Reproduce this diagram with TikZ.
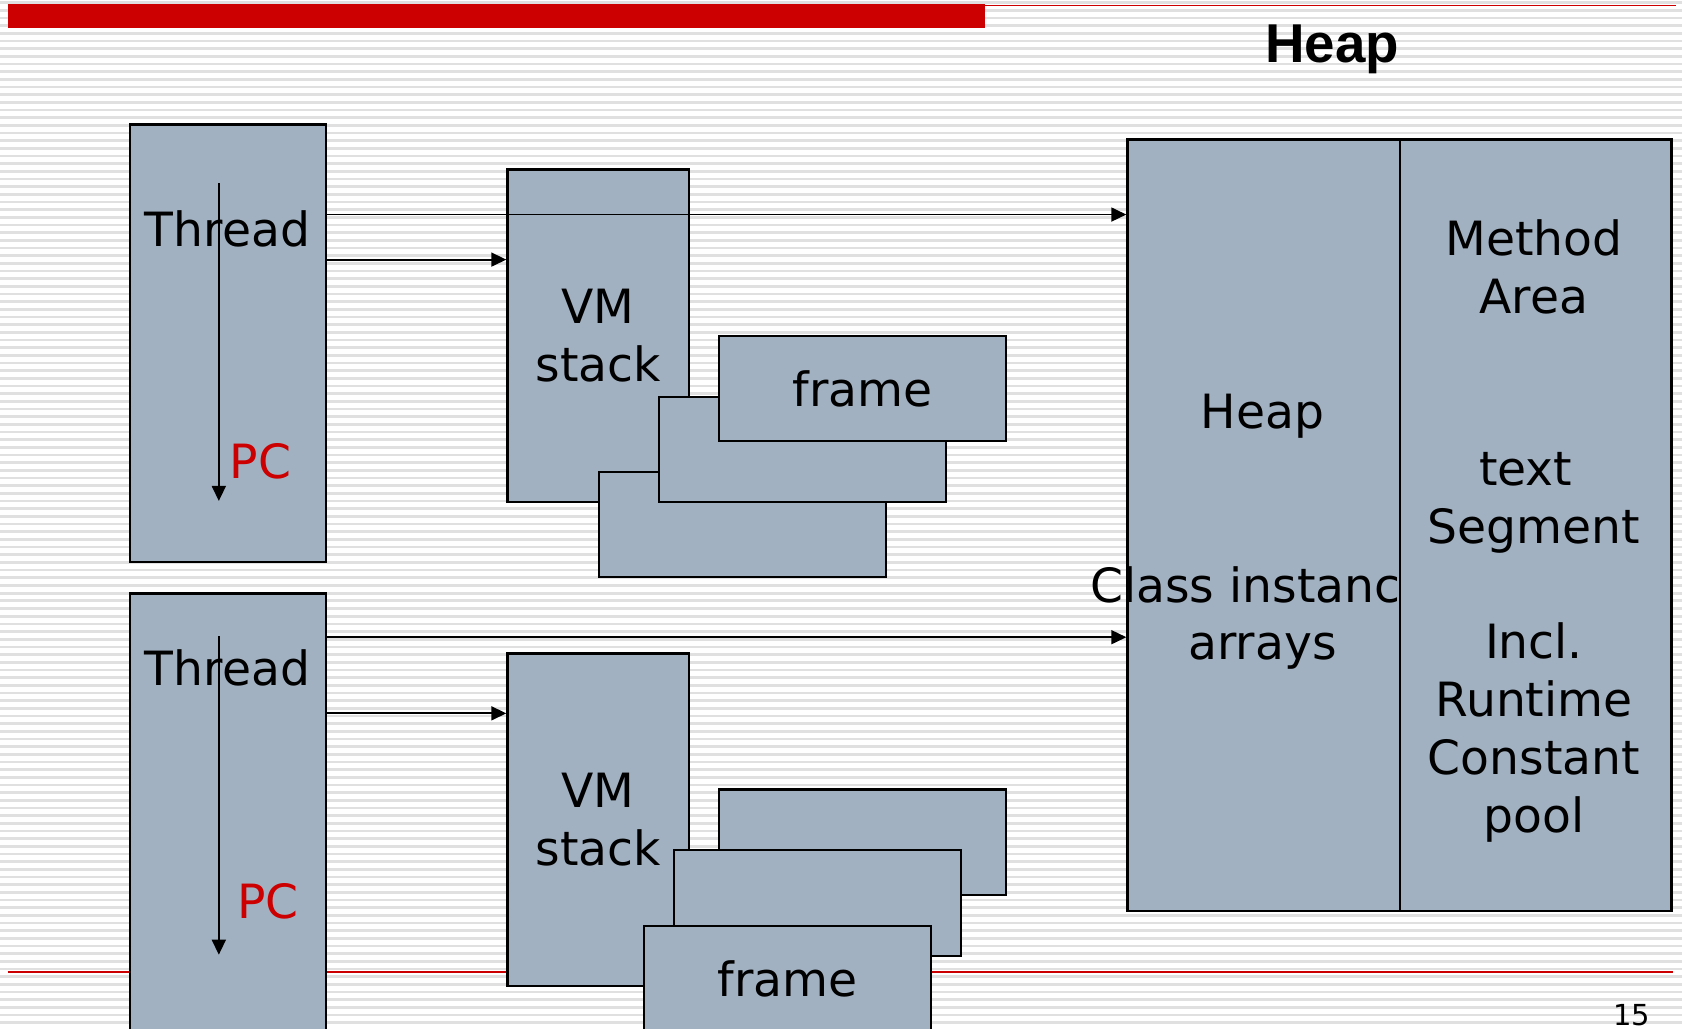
\documentclass[tikz,border=0pt]{standalone}
\usepackage{fontspec}
\setmainfont{DejaVu Sans}
\newfontfamily\titlefont{Liberation Sans}
\usetikzlibrary{arrows.meta}
\definecolor{boxfill}{RGB}{162,177,193}
\definecolor{slidered}{RGB}{204,0,0}
\definecolor{stripe}{RGB}{224,224,224}

\begin{document}
\begin{tikzpicture}[x=0.5pt,y=-0.5pt,
  box/.style={draw=black, fill=boxfill, line width=1.1pt, inner sep=0pt, anchor=north west,
              font=\fontsize{22}{27}\selectfont, align=center},
  lbl/.style={font=\fontsize{22}{27}\selectfont, align=center, inner sep=0pt},
  pc/.style={lbl, text=slidered},
  link/.style={line width=0.85pt, -{Triangle[length=7pt,width=6.5pt]}},
]
\useasboundingbox (0,0) rectangle (1568,959);
\clip (0,0) rectangle (1568,959);

% striped slide background
\foreach \k in {-4,...,130}
  \draw[stripe, line width=1.25pt] (0,31+7.15*\k) -- (1568,31+7.15*\k);

% slide decorations
\fill[slidered] (7,4) rectangle (918,26);
\draw[slidered, line width=0.8pt] (918,5) -- (1562,5);
\draw[slidered, line width=0.7pt] (7,906) -- (1560,906);
\node[font=\titlefont\bfseries\fontsize{25.5}{30}\selectfont, inner sep=0pt] (title) at (1242,46) {Heap};
\node[anchor=base, font=\fontsize{13.5}{16}\selectfont, inner sep=0pt] (pageno) at (1521,956) {15};

% threads
\node[box, minimum width=91.5pt, minimum height=204pt] (t1) at (120,115) {};
\node[box, minimum width=91.5pt, minimum height=220pt] (t2) at (120,552) {};
\node[lbl] (t1txt) at (212,213) {Thread};
\node[lbl] (t2txt) at (212,623) {Thread};
\node[pc] (pc1) at (243,430) {PC};
\node[pc] (pc2) at (250,840) {PC};
\coordinate (pc1s) at (204,171);
\coordinate (pc1e) at (204,467);
\coordinate (pc2s) at (204,593);
\coordinate (pc2e) at (204,890);
\draw[link] (pc1s) -- (pc1e);
\draw[link] (pc2s) -- (pc2e);

% VM stacks with their frames
\node[box, minimum width=84.5pt, minimum height=155pt] (vm1) at (472,157) {VM\\stack};
\node[box, minimum width=134pt, minimum height=49pt] (f1c) at (557,439) {};
\node[box, minimum width=134pt, minimum height=49pt] (f1b) at (613,369) {};
\node[box, minimum width=134pt, minimum height=49pt] (f1a) at (669,312) {frame};

\node[box, minimum width=84.5pt, minimum height=155pt] (vm2) at (472,608) {VM\\stack};
\node[box, minimum width=134pt, minimum height=49pt] (f2a) at (669,735) {};
\node[box, minimum width=134pt, minimum height=49.5pt] (f2b) at (627,791) {};
\node[box, minimum width=134pt, minimum height=49pt] (f2c) at (599,862) {frame};

% heap and method area
\node[box, minimum width=127pt, minimum height=359.5pt] (heap) at (1050,129) {};
\node[lbl] (heaptxt) at (1177,388) {Heap};
\node[lbl, anchor=west] (classtxt) at (1016,545) {Class instances};
\node[lbl] (arraytxt) at (1177,607) {arrays};
\node[box, minimum width=126.5pt, minimum height=359.5pt] (method) at (1304,129) {};
\node[lbl] (methodtxt) at (1430,249) {Method\\Area};
\node[lbl] (segtxt) at (1430,469) {text\kern0.35em\\Segment};
\node[lbl] (pooltxt) at (1430,683) {Incl.\\Runtime\\Constant\\pool};

% references from each thread
\draw[link] (t1.east |- 0,200) -- (heap.west |- 0,200);
\draw[link] (t1.east |- 0,242) -- (vm1.west |- 0,242);
\draw[link] (t2.east |- 0,594) -- (heap.west |- 0,594);
\draw[link] (t2.east |- 0,665) -- (vm2.west |- 0,665);
\end{tikzpicture}
\end{document}
